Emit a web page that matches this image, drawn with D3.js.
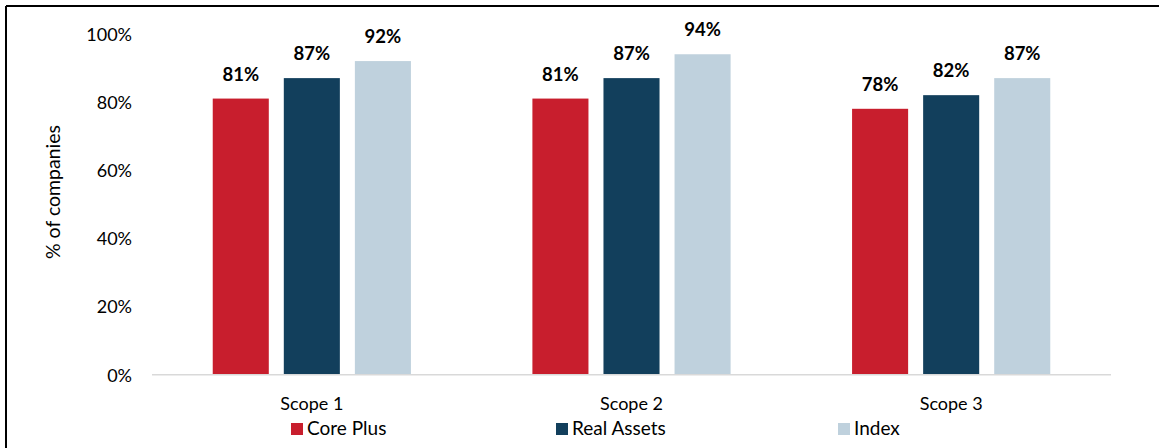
<!DOCTYPE html>
<html>
<head>
<meta charset="utf-8">
<script src="https://cdn.jsdelivr.net/npm/d3@7"></script>
<style>
  html, body { margin: 0; padding: 0; background: #fff; }
  svg { display: block; }
  text { font-family: Lato, "Open Sans", sans-serif; }
</style>
</head>
<body>
<div id="chart"></div>
<script>
const categories = ["Scope 1", "Scope 2", "Scope 3"];
const seriesNames = ["Core Plus", "Real Assets", "Index"];
const corePlus = [0.81, 0.81, 0.78];
const realAssets = [0.87, 0.87, 0.82];
const indexVals = [0.92, 0.94, 0.87];
const yTicks = [0, 0.2, 0.4, 0.6, 0.8, 1.0];
const yTitle = "% of companies";

const colors = ["#C81E2D", "#123F5C", "#BFD1DD"];
const seriesValues = [corePlus, realAssets, indexVals];
const FS = 18;

const W = 1159, H = 448;
const svg = d3.select("#chart").append("svg").attr("width", W).attr("height", H);

// border (top and left visible)
svg.append("line").attr("x1", 6).attr("x2", W + 5).attr("y1", 6).attr("y2", 6)
  .attr("stroke", "#000").attr("stroke-width", 2);
svg.append("line").attr("x1", 6).attr("x2", 6).attr("y1", 6).attr("y2", H + 5)
  .attr("stroke", "#000").attr("stroke-width", 2);

const x0 = d3.scaleBand().domain(categories).range([152, 1111]).padding(0);
const bw = x0.bandwidth();
const x1 = d3.scaleBand().domain(seriesNames).range([bw * 0.19, bw * 0.81]).paddingInner(15 / 71).paddingOuter(0);
const y = d3.scaleLinear().domain([0, 1]).range([374.7, 33.8]);

// y tick labels
const yAxis = d3.axisLeft(y).tickValues(yTicks).tickFormat(d3.format(".0%")).tickSize(0).tickPadding(0);
const yg = svg.append("g").attr("transform", "translate(132,0)").call(yAxis);
yg.select(".domain").remove();
yg.selectAll("text").attr("font-size", FS).attr("fill", "#000")
  .attr("font-family", "Lato, 'Open Sans', sans-serif").attr("dy", "0.35em");

// bars
const rows = categories.map((c, i) => ({ cat: c, vals: seriesNames.map((s, j) => ({ s, j, v: seriesValues[j][i] })) }));
const groups = svg.append("g").selectAll("g").data(rows).join("g")
  .attr("transform", d => `translate(${x0(d.cat)},0)`);
groups.selectAll("rect").data(d => d.vals).join("rect")
  .attr("x", d => x1(d.s)).attr("width", x1.bandwidth())
  .attr("y", d => y(d.v)).attr("height", d => y(0) - y(d.v))
  .attr("fill", d => colors[d.j]);
groups.selectAll("text").data(d => d.vals).join("text")
  .attr("x", d => x1(d.s) + x1.bandwidth() / 2)
  .attr("y", d => y(d.v) - 18)
  .attr("text-anchor", "middle")
  .attr("font-weight", "bold").attr("font-size", 18.5).attr("fill", "#000")
  .text(d => d3.format(".0%")(d.v));

// x axis line
svg.append("line").attr("x1", 152).attr("x2", 1111).attr("y1", y(0)).attr("y2", y(0))
  .attr("stroke", "#D9D9D9").attr("stroke-width", 1.5);

// x category labels
const xAxis = d3.axisBottom(x0).tickSize(0).tickPadding(0);
const xg = svg.append("g").attr("transform", "translate(0,397)").call(xAxis);
xg.select(".domain").remove();
xg.selectAll("text").attr("font-size", FS).attr("fill", "#000")
  .attr("font-family", "Lato, 'Open Sans', sans-serif").attr("dy", "0.72em");

// y title
svg.append("text").attr("transform", "translate(60,192) rotate(-90)")
  .attr("text-anchor", "middle").attr("font-size", 19.5).attr("fill", "#000")
  .text(yTitle);

// legend
const legendX = d3.scaleOrdinal().domain(seriesNames).range([291, 556, 838]);
const legend = svg.append("g");
seriesNames.forEach((s, j) => {
  const lx = legendX(s);
  legend.append("rect").attr("x", lx).attr("y", 423).attr("width", 12).attr("height", 12).attr("fill", colors[j]);
  legend.append("text").attr("x", lx + 16).attr("y", 435)
    .attr("font-size", 19).attr("fill", "#000").text(s);
});
</script>
</body>
</html>
